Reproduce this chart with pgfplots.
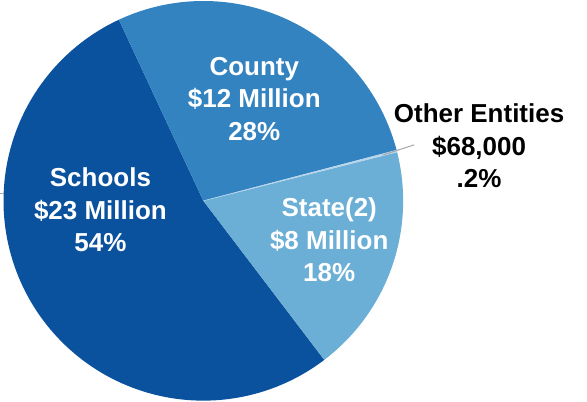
\documentclass[border=0pt]{standalone}
\usepackage{pgfplots}
\usepackage{pgfplotstable}
\pgfplotsset{compat=1.18}
\usepackage{fontspec}
\setmainfont{Liberation Sans}
\definecolor{schoolsc}{HTML}{0B529E}
\definecolor{countyc}{HTML}{3483C1}
\definecolor{statec}{HTML}{6BAED6}
\definecolor{otherc}{HTML}{B9D7EC}
\definecolor{leader}{HTML}{A6A6A6}
\pgfplotstableread{
label value
Schools 23
State 8
Other 0.068
County 12
}\piedata
\pgfplotstablegetelem{0}{value}\of\piedata \let\vA\pgfplotsretval
\pgfplotstablegetelem{1}{value}\of\piedata \let\vB\pgfplotsretval
\pgfplotstablegetelem{2}{value}\of\piedata \let\vC\pgfplotsretval
\pgfplotstablegetelem{3}{value}\of\piedata \let\vD\pgfplotsretval
\pgfmathsetmacro{\tot}{\vA+\vB+\vC+\vD}
\pgfmathsetmacro{\aO}{115}
\pgfmathsetmacro{\aA}{\aO+360*\vA/\tot}
\pgfmathsetmacro{\aB}{\aA+360*\vB/\tot}
\pgfmathsetmacro{\aC}{\aB+360*\vC/\tot}
\pgfmathsetmacro{\aD}{\aO+360}
\begin{document}
\begin{tikzpicture}
\begin{axis}[
  scale only axis, width=587pt, height=402pt,
  xmin=0, xmax=587, ymin=0, ymax=402,
  hide axis, clip=false,
]
\path (axis cs:0,0) rectangle (axis cs:587,402);
\addplot[fill=schoolsc, draw=none, domain=\aO:\aA, samples=120, variable=\t]
  ({203+200*cos(\t)},{201+200*sin(\t)}) -- (axis cs:203,201) -- cycle;
\addplot[fill=statec, draw=none, domain=\aA:\aB, samples=60, variable=\t]
  ({203+200*cos(\t)},{201+200*sin(\t)}) -- (axis cs:203,201) -- cycle;
\addplot[fill=countyc, draw=none, domain=\aC:\aD, samples=80, variable=\t]
  ({203+200*cos(\t)},{201+200*sin(\t)}) -- (axis cs:203,201) -- cycle;
\addplot[fill=otherc, draw=otherc, line width=0.4pt, domain=\aB:\aC, samples=3, variable=\t]
  ({203+200*cos(\t)},{201+200*sin(\t)}) -- (axis cs:203,201) -- cycle;
\draw[leader, line width=1pt] (axis cs:383,247) -- (axis cs:414,257);
\draw[leader, line width=1pt] (axis cs:0,208) -- (axis cs:4,208);
\begin{scope}[every node/.style={align=center, font=\fontsize{26}{32.5}\selectfont\bfseries}]
\node[text=white] at (axis cs:254,303) {County\\\$12 Million\\28\%};
\node[text=white] at (axis cs:100,192) {Schools\\\$23 Million\\54\%};
\node[text=white] at (axis cs:329,162) {State(2)\\\$8 Million\\18\%};
\node[text=black] at (axis cs:479,256) {Other Entities\\\$68,000\\.2\%};
\end{scope}
\end{axis}
\end{tikzpicture}
\end{document}
